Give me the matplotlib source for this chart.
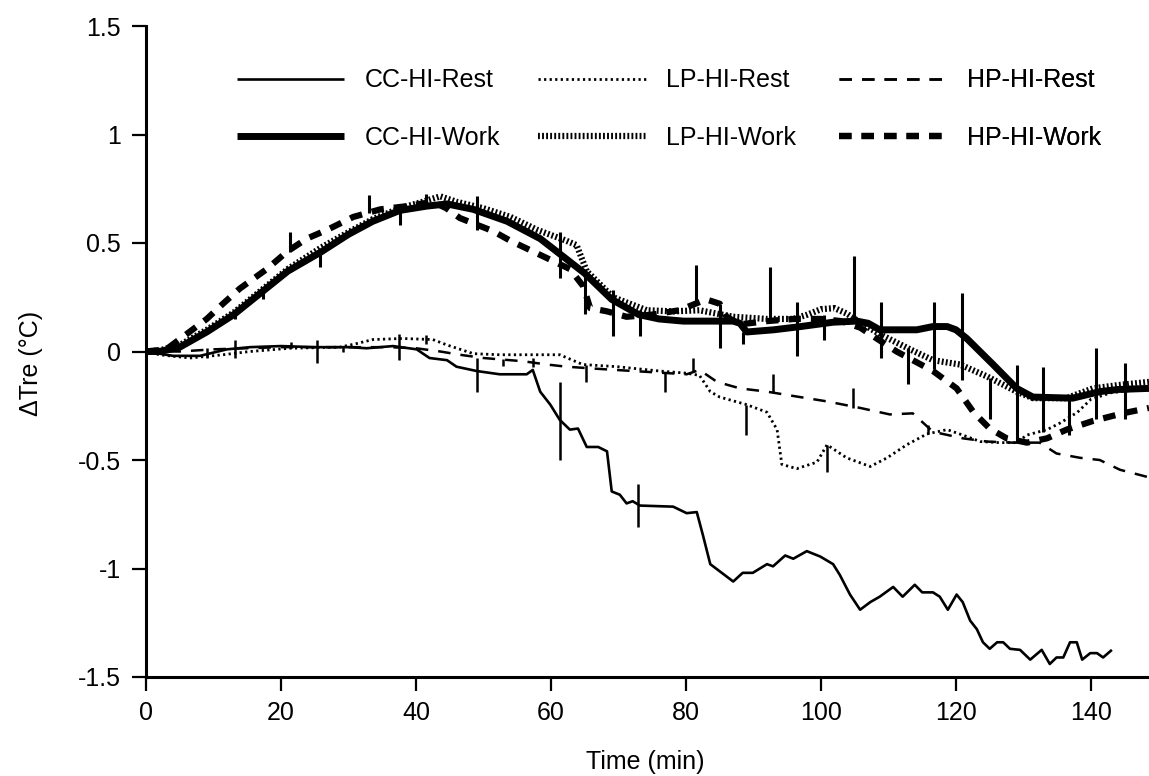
import numpy as np
import matplotlib
matplotlib.use("Agg")
import matplotlib.pyplot as plt
from matplotlib.lines import Line2D

plt.rcParams['font.family'] = ['Liberation Sans', 'DejaVu Sans']

# ---- data (time in min, delta Tre in deg C) ----
cc_work_x = [0, 2, 5, 9, 13, 17, 21, 26, 30, 33.6, 37.6, 41.6, 44.6, 48.5, 53.5, 58.4, 61.3, 65, 69, 73, 76,
             79.6, 87, 88, 89, 93, 97, 101.8, 105.3, 107, 108.7, 114.2, 116.6, 118.7, 120, 121.6, 125.5, 129,
             131.4, 137.3, 141.3, 144, 148.6]
cc_work_y = [0, 0.0, 0.02, 0.09, 0.17, 0.27, 0.37, 0.46, 0.54, 0.60, 0.65, 0.67, 0.68, 0.655, 0.60, 0.52, 0.45,
             0.36, 0.24, 0.17, 0.15, 0.14, 0.14, 0.13, 0.09, 0.10, 0.115, 0.135, 0.14, 0.13, 0.10, 0.10, 0.115,
             0.115, 0.10, 0.06, -0.06, -0.17, -0.21, -0.215, -0.185, -0.175, -0.17]

lp_work_x = [0, 2, 5, 9, 13, 17, 21, 26, 30, 33.6, 37.6, 41, 43.6, 46, 50, 54, 58, 62.3, 63.8, 65.3, 69.2, 74.2,
             78, 82, 87, 92, 95.9, 98, 100, 102, 103.8, 106, 108.7, 113.2, 116.6, 120.6, 124.6, 129, 131.4,
             136.4, 140.3, 144, 148.6]
lp_work_y = [0, 0.005, 0.03, 0.10, 0.18, 0.28, 0.38, 0.48, 0.55, 0.61, 0.66, 0.69, 0.715, 0.69, 0.66, 0.62, 0.56,
             0.51, 0.49, 0.37, 0.25, 0.19, 0.185, 0.19, 0.16, 0.15, 0.15, 0.17, 0.195, 0.2, 0.175, 0.13, 0.08,
             0.01, -0.04, -0.06, -0.115, -0.185, -0.215, -0.215, -0.17, -0.155, -0.14]

hp_work_x = [0, 3, 6, 9, 11.4, 13.9, 17.9, 20.9, 23.8, 26.8, 30.7, 34.7, 38.7, 42.5, 44.5, 46.5, 51.4, 54, 57.4,
             62.8, 64.8, 65.8, 68.3, 71.2, 75, 79, 83, 85, 86, 88, 92, 96, 100, 103, 105.8, 111.2, 116.6, 120.1,
             122.6, 125, 127.5, 130.5, 133.5, 136.4, 140.3, 144.7, 148.6]
hp_work_y = [0, 0.01, 0.08, 0.15, 0.22, 0.29, 0.38, 0.46, 0.52, 0.56, 0.62, 0.655, 0.67, 0.69, 0.66, 0.615, 0.555,
             0.51, 0.46, 0.38, 0.30, 0.20, 0.185, 0.16, 0.17, 0.19, 0.24, 0.22, 0.16, 0.125, 0.14, 0.15, 0.15,
             0.14, 0.11, 0.0, -0.09, -0.17, -0.28, -0.355, -0.40, -0.42, -0.40, -0.36, -0.32, -0.285, -0.26]

cc_rest_x = [0, 2, 4, 8, 12, 15.4, 20, 25, 30, 32.7, 36.6, 40.1, 42, 44.6, 46, 49, 52.4, 56.4, 57.3, 58.4, 59.9,
             61.3, 62.8, 64, 65.3, 67, 68.3, 69, 70.2, 71.2, 72.1, 73.2, 78.1, 80.1, 81.6, 82.5, 83.6, 87, 88.4,
             89.9, 92, 92.9, 94.7, 95.9, 97.9, 99.9, 101.8, 102.8, 104.3, 105.8, 107.3, 108.7, 110.7, 112.1,
             113.9, 115, 116.6, 117.6, 118.8, 120.1, 121, 122.1, 123.1, 124, 125, 126.1, 127, 128, 129.5, 131,
             132.7, 133.9, 134.9, 135.9, 136.9, 137.9, 138.7, 139.9, 140.9, 141.8, 143.1]
cc_rest_y = [0, -0.01, -0.02, -0.02, 0.01, 0.02, 0.025, 0.02, 0.02, 0.015, 0.025, 0.01, -0.03, -0.04, -0.07,
             -0.09, -0.105, -0.105, -0.085, -0.185, -0.245, -0.315, -0.36, -0.355, -0.44, -0.44, -0.46, -0.645,
             -0.66, -0.70, -0.69, -0.71, -0.715, -0.745, -0.74, -0.845, -0.98, -1.06, -1.02, -1.02, -0.98, -0.99,
             -0.94, -0.955, -0.92, -0.945, -0.98, -1.03, -1.12, -1.19, -1.155, -1.13, -1.085, -1.13, -1.075,
             -1.11, -1.11, -1.13, -1.19, -1.12, -1.155, -1.24, -1.28, -1.34, -1.37, -1.34, -1.34, -1.37, -1.375,
             -1.42, -1.375, -1.44, -1.41, -1.41, -1.34, -1.34, -1.42, -1.39, -1.39, -1.41, -1.375]

lp_rest_x = [0, 2, 6.5, 11.4, 15.4, 21.3, 28.7, 31, 33.6, 38, 42.5, 44.6, 48.5, 52.4, 61.3, 64.7, 69.8, 76.1,
             80.1, 82, 83.6, 85, 89, 92, 93.5, 94.2, 96.4, 99.4, 100.9, 103.8, 107.3, 109.8, 112.7, 115.7,
             118.7, 121, 123.6, 126.5, 129, 130.5, 133.5, 135.4, 138, 140, 143, 148.6]
lp_rest_y = [0, -0.015, -0.03, -0.015, 0.0, 0.015, 0.02, 0.035, 0.055, 0.06, 0.055, 0.03, -0.01, -0.015, -0.015,
             -0.06, -0.07, -0.09, -0.10, -0.11, -0.185, -0.21, -0.245, -0.28, -0.36, -0.52, -0.54, -0.51, -0.43,
             -0.49, -0.53, -0.49, -0.43, -0.38, -0.36, -0.385, -0.415, -0.42, -0.42, -0.385, -0.36, -0.33,
             -0.28, -0.22, -0.19, -0.17]

hp_rest_x = [0, 5, 10, 20, 30, 36, 40, 43.6, 46.5, 50, 55.9, 59.4, 62.3, 67, 72.2, 80.1, 82, 84.6, 88, 92, 96.9,
             100.9, 105.8, 110.2, 113.6, 116.6, 121, 124.6, 128.4, 132.4, 134.9, 138.4, 141.3, 144.3, 148.6]
hp_rest_y = [0, 0.0, 0.01, 0.02, 0.02, 0.02, 0.015, 0.0, -0.015, -0.03, -0.045, -0.06, -0.07, -0.08, -0.09,
             -0.105, -0.085, -0.14, -0.17, -0.185, -0.21, -0.23, -0.26, -0.29, -0.285, -0.37, -0.40, -0.415,
             -0.42, -0.42, -0.47, -0.49, -0.50, -0.545, -0.58]

# one-sided / two-sided error bars: x, centre, lower, upper
cc_work_eb_x = [13.2, 17.3, 25.8, 37.6, 49, 61.3, 69.2, 73.2, 88.5, 96.5, 100.5, 104.9, 116.7, 120.9, 129,
                132.9, 136.7, 140.7]
cc_work_eb_y = [0.17, 0.27, 0.45, 0.65, 0.66, 0.45, 0.24, 0.17, 0.09, 0.115, 0.13, 0.14, 0.115, 0.08, -0.17,
                -0.215, -0.215, -0.185]
cc_work_eb_lo = [0.02, 0.03, 0.06, 0.065, 0.10, 0.11, 0.17, 0.10, 0.055, 0.135, 0.075, 0.0, 0.195, 0.21, 0.245,
                 0.155, 0.17, 0.125]
cc_work_eb_hi = [0.015, 0.0, 0.0, 0.03, 0.055, 0.10, 0.045, 0.02, 0.0, 0.115, 0.04, 0.30, 0.115, 0.19, 0.11,
                 0.145, 0.0, 0.2]

lp_work_eb_x = [41.5, 92.5, 108.9, 125, 145]
lp_work_eb_y = [0.69, 0.15, 0.08, -0.12, -0.15]
lp_work_eb_lo = [0.0, 0.0, 0.11, 0.19, 0.16]
lp_work_eb_hi = [0.035, 0.24, 0.15, 0.0, 0.095]

hp_work_eb_x = [21.3, 33, 65, 81.5, 85, 112.9]
hp_work_eb_y = [0.46, 0.64, 0.28, 0.22, 0.22, -0.03]
hp_work_eb_lo = [0.0, 0.0, 0.105, 0.0, 0.205, 0.12]
hp_work_eb_hi = [0.09, 0.08, 0.08, 0.18, 0.0, 0.045]

cc_rest_eb_x = [9, 13.2, 25.3, 37.5, 49, 61.3, 72.9]
cc_rest_eb_y = [-0.02, 0.02, 0.02, 0.025, -0.09, -0.33, -0.71]
cc_rest_eb_lo = [0.01, 0.05, 0.075, 0.065, 0.095, 0.17, 0.10]
cc_rest_eb_hi = [0.035, 0.035, 0.035, 0.055, 0.06, 0.19, 0.10]

lp_rest_eb_x = [21.5, 41.5, 65.2, 88.9, 100.9, 115.8]
lp_rest_eb_y = [0.015, 0.055, -0.06, -0.245, -0.43, -0.38]
lp_rest_eb_lo = [0.0, 0.02, 0.08, 0.14, 0.125, 0.0]
lp_rest_eb_hi = [0.03, 0.02, 0.0, 0.0, 0.0, 0.04]

hp_rest_eb_x = [29.2, 52.9, 57.3, 76.9, 81, 92.9, 104.8]
hp_rest_eb_y = [0.02, -0.035, -0.05, -0.10, -0.09, -0.185, -0.26]
hp_rest_eb_lo = [0.02, 0.03, 0.02, 0.085, 0.0, 0.0, 0.0]
hp_rest_eb_hi = [0.0, 0.0, 0.02, 0.0, 0.06, 0.08, 0.09]

x_ticks = [0, 20, 40, 60, 80, 100, 120, 140]
y_ticks = [-1.5, -1, -0.5, 0, 0.5, 1, 1.5]
y_tick_labels = ["-1.5", "-1", "-0.5", "0", "0.5", "1", "1.5"]

# ---- figure ----
fig = plt.figure(figsize=(11.49, 7.76), dpi=100)
ax = fig.add_axes([146 / 1149, 1 - 677 / 776, 1 - 146 / 1149, (677 - 26) / 776])

series = [
    ("CC-HI-Rest", cc_rest_x, cc_rest_y, dict(lw=1.9, ls="-"),
     (cc_rest_eb_x, cc_rest_eb_y, cc_rest_eb_lo, cc_rest_eb_hi), 1.8),
    ("CC-HI-Work", cc_work_x, cc_work_y, dict(lw=5, ls="-"),
     (cc_work_eb_x, cc_work_eb_y, cc_work_eb_lo, cc_work_eb_hi), 2.2),
    ("LP-HI-Rest", lp_rest_x, lp_rest_y, dict(lw=2.0, ls=(0, (0.8, 1.2))),
     (lp_rest_eb_x, lp_rest_eb_y, lp_rest_eb_lo, lp_rest_eb_hi), 1.8),
    ("LP-HI-Work", lp_work_x, lp_work_y, dict(lw=4.5, ls=(0, (0.3, 0.35))),
     (lp_work_eb_x, lp_work_eb_y, lp_work_eb_lo, lp_work_eb_hi), 2.2),
    ("HP-HI-Rest", hp_rest_x, hp_rest_y, dict(lw=1.8, ls=(0, (5, 4))),
     (hp_rest_eb_x, hp_rest_eb_y, hp_rest_eb_lo, hp_rest_eb_hi), 1.8),
    ("HP-HI-Work", hp_work_x, hp_work_y, dict(lw=4.5, ls=(0, (2.0, 1.6))),
     (hp_work_eb_x, hp_work_eb_y, hp_work_eb_lo, hp_work_eb_hi), 2.2),
]

handles = []
for name, xs, ys, style, eb, ebw in series:
    ln, = ax.plot(xs, ys, color="black", solid_capstyle="butt", dash_capstyle="butt", label=name, **style)
    handles.append(ln)
    ex, ey, elo, ehi = eb
    ax.errorbar(ex, ey, yerr=[elo, ehi], fmt="none", ecolor="black", elinewidth=ebw, capsize=0)

ax.set_xlim(0, 148.6)
ax.set_ylim(-1.5, 1.5)
ax.set_xticks(x_ticks)
ax.set_yticks(y_ticks)
ax.set_yticklabels(y_tick_labels)
ax.tick_params(axis="both", direction="out", length=10, width=1.6, labelsize=18, colors="black")
ax.tick_params(axis="x", pad=7)
ax.tick_params(axis="y", pad=8)
for side in ["top", "right"]:
    ax.spines[side].set_visible(False)
for side in ["left", "bottom"]:
    ax.spines[side].set_linewidth(2.2)

ax.set_xlabel("Time (min)", fontsize=18)
ax.xaxis.set_label_coords(0.4975, -0.13)
ax.xaxis.label.set_va("center")
ax.set_ylabel("ΔTre (°C)", fontsize=18)
ax.yaxis.set_label_coords(-0.115, 0.482)
ax.yaxis.label.set_va("center")

# legend: three columns, rest on top row, work below
col_x = [0.0907, 0.391, 0.691]
for i, cx in enumerate(col_x):
    leg = ax.legend(handles=handles[2 * i:2 * i + 2], loc="center left", bbox_to_anchor=(cx, 0.872),
                    frameon=False, fontsize=18, handlelength=4.3, handletextpad=0.8,
                    labelspacing=1.35, borderpad=0, borderaxespad=0)
    ax.add_artist(leg)

fig.savefig("out.png", dpi=100)
